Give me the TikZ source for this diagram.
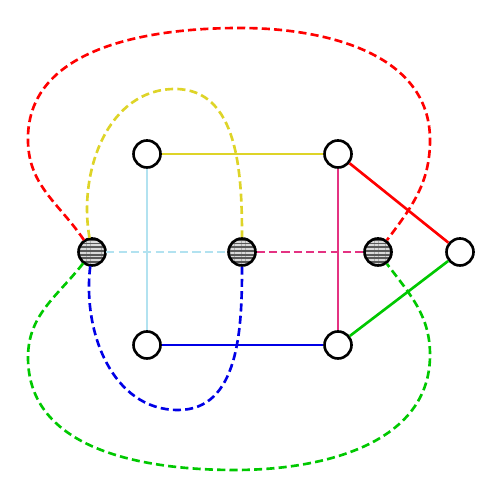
\documentclass[tikz,border=0pt]{standalone}
\usetikzlibrary{patterns.meta}
\definecolor{cY}{RGB}{222,212, 40}
\definecolor{cS}{RGB}{178,226,240}
\definecolor{cM}{RGB}{228, 50,130}
\definecolor{cB}{RGB}{  0,  0,230}
\definecolor{cR}{RGB}{255,  0,  0}
\definecolor{cG}{RGB}{  0,200,  0}
\tikzset{
  vert/.style={
    circle, draw=black, fill=white, line width=1.5pt,
    minimum size=5.4mm, inner sep=0pt
  },
  hub/.style={
    circle, draw=black, line width=1.5pt,
    minimum size=5.4mm, inner sep=0pt,
    preaction={fill=black!65},
    pattern={Lines[angle=0, distance=2.1pt, line width=1pt]},
    pattern color=white!85!black
  },
  se/.style={line width=1.5pt, draw=#1},
  de/.style={line width=1.5pt, draw=#1, dashed, dash pattern=on 4.6pt off 2.4pt},
}

\begin{document}
\begin{tikzpicture}
\useasboundingbox (0,0) rectangle (10,10);

%% ── Waypoints of the long loops ─────────────────────────────────────────────
\coordinate (rl) at (0.56,7.15);
\coordinate (rt) at (4.80,9.44);
\coordinate (rr) at (8.60,7.20);
\coordinate (yt) at (3.50,8.22);
\coordinate (bb) at (3.56,1.80);
\coordinate (gl) at (0.56,2.85);
\coordinate (gb) at (4.70,0.60);
\coordinate (gr) at (8.60,2.90);

%% ── Vertices ─────────────────────────────────────────────────────────────────
\node[vert] (a) at (2.94,6.92) {};
\node[vert] (b) at (6.76,6.92) {};
\node[vert] (c) at (2.94,3.10) {};
\node[vert] (d) at (6.76,3.10) {};
\node[vert] (e) at (9.20,4.96) {};

\node[hub] (h1) at (1.84,4.96) {};
\node[hub] (h2) at (4.84,4.96) {};
\node[hub] (h3) at (7.56,4.96) {};

%% ── Solid edges ──────────────────────────────────────────────────────────────
\draw[se=cY] (a) -- (b);
\draw[se=cS] (a) -- (c);
\draw[se=cM] (b) -- (d);
\draw[se=cB] (c) -- (d);
\draw[se=cR] (b) -- (e);
\draw[se=cG] (d) -- (e);

%% ── Dashed edges ─────────────────────────────────────────────────────────────
\draw[de=cS] (h1) -- (h2);
\draw[de=cM] (h2) -- (h3);
\draw[de=cY] (h1) to[out=100,in=180] (yt) to[out=0,in=90] (h2);
\draw[de=cB] (h1) to[out=263,in=180] (bb) to[out=0,in=270] (h2);
\draw[de=cR] (h1) to[out=124,in=272] (rl) to[out=92,in=180] (rt)
                  to[out=0,in=90] (rr) to[out=270,in=53] (h3);
\draw[de=cG] (h1) to[out=232,in=90] (gl) to[out=270,in=180] (gb)
                  to[out=0,in=270] (gr) to[out=90,in=307] (h3);

\end{tikzpicture}
\end{document}
